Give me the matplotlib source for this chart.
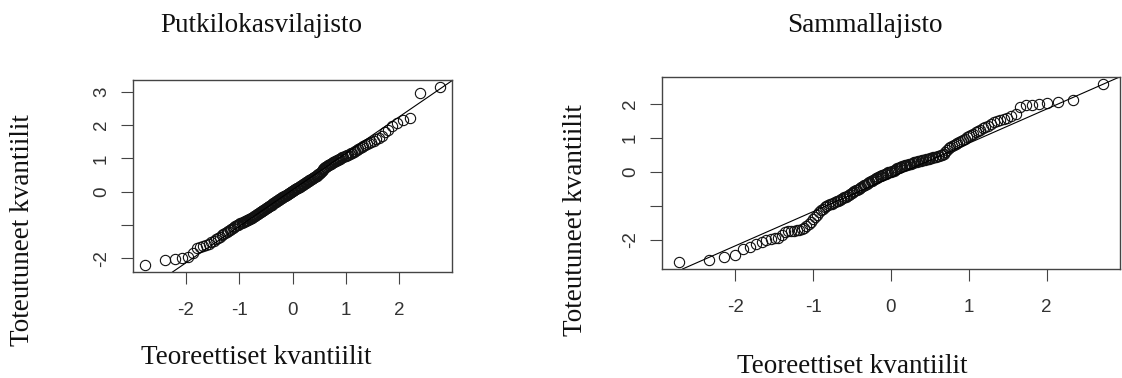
import matplotlib
matplotlib.use("Agg")
import matplotlib.pyplot as plt
import numpy as np
from statistics import NormalDist

putki_values = [
    -2.20, -2.05, -2.03, -2.00, -1.95, -1.84, -1.68, -1.66, -1.63, -1.60,
    -1.56, -1.52, -1.48, -1.43, -1.38, -1.35, -1.31, -1.27, -1.24, -1.20,
    -1.17, -1.14, -1.11, -1.08, -1.05, -1.03, -1.01, -0.99, -0.97, -0.95,
    -0.94, -0.92, -0.91, -0.89, -0.88, -0.86, -0.85, -0.83, -0.82, -0.80,
    -0.78, -0.76, -0.74, -0.72, -0.70, -0.68, -0.66, -0.64, -0.62, -0.60,
    -0.58, -0.57, -0.55, -0.54, -0.52, -0.50, -0.48, -0.47, -0.45, -0.43,
    -0.42, -0.40, -0.39, -0.37, -0.35, -0.34, -0.32, -0.30, -0.29, -0.27,
    -0.26, -0.24, -0.23, -0.21, -0.20, -0.19, -0.17, -0.16, -0.14, -0.13,
    -0.12, -0.10, -0.09, -0.07, -0.06, -0.04, -0.03, -0.01, 0.00, 0.02,
    0.03, 0.04, 0.06, 0.07, 0.08, 0.10, 0.11, 0.12, 0.14, 0.15,
    0.16, 0.18, 0.19, 0.21, 0.22, 0.24, 0.25, 0.27, 0.28, 0.29,
    0.31, 0.32, 0.34, 0.35, 0.37, 0.38, 0.40, 0.41, 0.43, 0.45,
    0.46, 0.48, 0.50, 0.52, 0.54, 0.56, 0.59, 0.62, 0.66, 0.69,
    0.71, 0.73, 0.75, 0.77, 0.79, 0.80, 0.82, 0.84, 0.86, 0.88,
    0.90, 0.91, 0.93, 0.94, 0.96, 0.97, 0.99, 1.01, 1.03, 1.05,
    1.07, 1.08, 1.10, 1.11, 1.13, 1.15, 1.17, 1.19, 1.22, 1.25,
    1.28, 1.31, 1.34, 1.37, 1.40, 1.42, 1.46, 1.50, 1.53, 1.57,
    1.62, 1.67, 1.78, 1.86, 1.98, 2.07, 2.14, 2.22, 2.97, 3.14,
]

sammal_values = [
    -2.65, -2.59, -2.50, -2.44, -2.28, -2.22, -2.12, -2.05, -2.00, -1.98,
    -1.96, -1.94, -1.85, -1.77, -1.75, -1.74, -1.73, -1.72, -1.70, -1.67,
    -1.64, -1.60, -1.54, -1.47, -1.40, -1.33, -1.26, -1.19, -1.13, -1.08,
    -1.04, -1.01, -0.98, -0.95, -0.93, -0.91, -0.89, -0.87, -0.85, -0.83,
    -0.80, -0.78, -0.75, -0.73, -0.70, -0.68, -0.65, -0.62, -0.60, -0.57,
    -0.54, -0.52, -0.49, -0.47, -0.44, -0.42, -0.39, -0.37, -0.34, -0.32,
    -0.30, -0.28, -0.26, -0.24, -0.21, -0.19, -0.17, -0.15, -0.13, -0.12,
    -0.10, -0.08, -0.06, -0.05, -0.03, -0.01, 0.00, 0.01, 0.03,
    0.04, 0.06, 0.08, 0.11, 0.12, 0.14, 0.16,
    0.17, 0.18, 0.20, 0.21,
    0.22, 0.23, 0.24, 0.25, 0.27, 0.28, 0.29, 0.30, 0.31, 0.32,
    0.33, 0.34, 0.35, 0.36, 0.37, 0.38, 0.39, 0.40, 0.41, 0.43,
    0.44, 0.45, 0.46, 0.48, 0.49, 0.51, 0.53,
    0.60, 0.65, 0.70, 0.73, 0.76, 0.79, 0.82, 0.85,
    0.88, 0.92, 0.95, 0.98, 1.02,
    1.05, 1.09, 1.13, 1.17, 1.21, 1.25, 1.30,
    1.33, 1.37, 1.42, 1.46, 1.49, 1.53, 1.56, 1.60,
    1.66, 1.70, 1.92, 1.97, 1.98, 2.00, 2.03, 2.05, 2.12, 2.59,
]

titles = ["Putkilokasvilajisto", "Sammallajisto"]
x_label = "Teoreettiset kvantiilit"
y_label = "Toteutuneet kvantiilit"
x_ticks = [-2, -1, 0, 1, 2]
putki_yticks = [-2, -1, 0, 1, 2, 3]
putki_yticklabels = ["-2", "", "0", "1", "2", "3"]
sammal_yticks = [-2, -1, 0, 1, 2]
sammal_yticklabels = ["-2", "", "0", "1", "2"]

SERIF = "Liberation Serif"
SANS = "Liberation Sans"
W, H = 1122, 378


#theoretical quantiles like R's qqnorm (ppoints for n > 10)
def theoretical_quantiles(n):
    nd = NormalDist()
    return np.array([nd.inv_cdf((i - 0.5) / n) for i in range(1, n + 1)])


#line through the first and third quartiles like R's qqline
def quartile_line(values):
    y1, y3 = np.percentile(values, [25, 75])
    x1, x3 = NormalDist().inv_cdf(0.25), NormalDist().inv_cdf(0.75)
    slope = (y3 - y1) / (x3 - x1)
    return y1 - slope * x1, slope


def qq_panel(ax, values, yticks, yticklabels):
    y = np.sort(np.array(values))
    x = theoretical_quantiles(len(y))
    ax.plot(x, y, linestyle="none", marker="o", markersize=7.4,
            markerfacecolor="none", markeredgecolor="#111111", markeredgewidth=0.8)
    ax.margins(0.04)
    intercept, slope = quartile_line(y)
    ax.axline((0, intercept), slope=slope, color="black", linewidth=0.8)

    ax.set_xticks(x_ticks)
    ax.set_xticklabels([str(t) for t in x_ticks], fontfamily=SANS)
    ax.set_yticks(yticks)
    ax.set_yticklabels(yticklabels, rotation=90, va="center", fontfamily=SANS)
    ax.tick_params(axis="both", length=8.5, width=0.8, color="#444444",
                   labelsize=13.5, labelcolor="#333333")
    ax.tick_params(axis="x", pad=13)
    ax.tick_params(axis="y", pad=8)
    for spine in ax.spines.values():
        spine.set_color("#444444")
        spine.set_linewidth(1.0)


fig = plt.figure(figsize=(W / 100, H / 100), dpi=100)

ax1 = fig.add_axes([133 / W, 1 - 272 / H, (452 - 133) / W, (272 - 80) / H])
qq_panel(ax1, putki_values, putki_yticks, putki_yticklabels)

ax2 = fig.add_axes([662 / W, 1 - 269 / H, (1120 - 662) / W, (269 - 77) / H])
qq_panel(ax2, sammal_values, sammal_yticks, sammal_yticklabels)

# titles and axis labels placed as in the original document
text_kw = dict(fontfamily=SERIF, fontsize=19.5, color="#111111")
fig.text(261 / W, 1 - 32 / H, titles[0], ha="center", va="baseline", **text_kw)
fig.text(865 / W, 1 - 32 / H, titles[1], ha="center", va="baseline", **text_kw)
fig.text(256 / W, 1 - 364 / H, x_label, ha="center", va="baseline", **text_kw)
fig.text(852 / W, 1 - 373 / H, x_label, ha="center", va="baseline", **text_kw)
fig.text(23 / W, 1 - 230 / H, y_label, ha="center", va="center", rotation=90, **text_kw)
fig.text(575 / W, 1 - 220 / H, y_label, ha="center", va="center", rotation=90, **text_kw)

fig.savefig("out.png", dpi=100, facecolor="white")
